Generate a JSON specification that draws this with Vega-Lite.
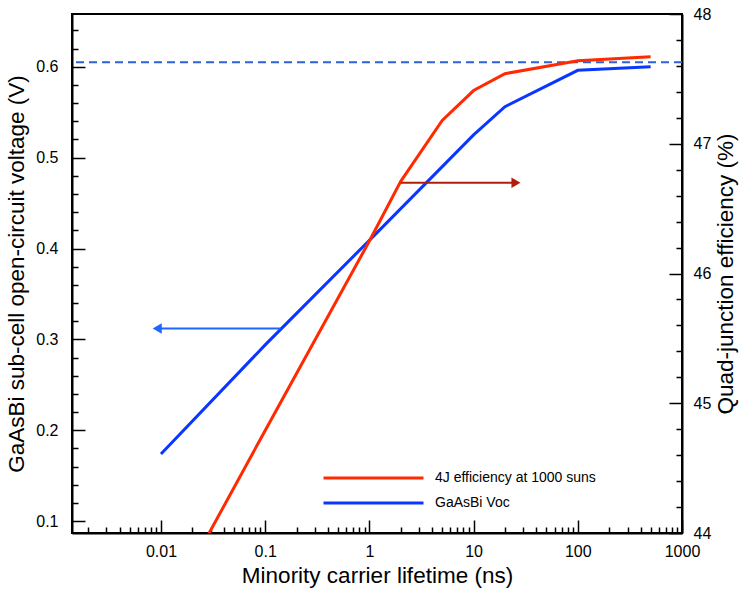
{
  "$schema": "https://vega.github.io/schema/vega-lite/v6.json",
  "width": 610,
  "height": 519,
  "autosize": {"type": "none"},
  "padding": {"left": 72, "top": 14, "right": 61, "bottom": 60},
  "background": "white",
  "config": {
    "font": "Liberation Sans",
    "view": {"stroke": "black", "strokeWidth": 2},
    "axis": {
      "grid": false,
      "domainColor": "black",
      "domainWidth": 2,
      "tickColor": "black",
      "tickWidth": 1.5,
      "tickSize": -13,
      "labelColor": "black",
      "labelFontSize": 16,
      "titleColor": "black",
      "titleFontSize": 22.5,
      "titleFontWeight": "normal",
      "labelFlush": false,
      "labelOverlap": false
    }
  },
  "datasets": {
    "curves": [
      {"series": "GaAsBi Voc", "lifetime": 0.01, "value": 0.174},
      {"series": "GaAsBi Voc", "lifetime": 0.1, "value": 0.294},
      {"series": "GaAsBi Voc", "lifetime": 1, "value": 0.409},
      {"series": "GaAsBi Voc", "lifetime": 10, "value": 0.525},
      {"series": "GaAsBi Voc", "lifetime": 20, "value": 0.556},
      {"series": "GaAsBi Voc", "lifetime": 100, "value": 0.596},
      {"series": "GaAsBi Voc", "lifetime": 500, "value": 0.6},
      {"series": "4J efficiency at 1000 suns", "lifetime": 0.01, "value": 43.32},
      {"series": "4J efficiency at 1000 suns", "lifetime": 0.1, "value": 44.79},
      {"series": "4J efficiency at 1000 suns", "lifetime": 1, "value": 46.25},
      {"series": "4J efficiency at 1000 suns", "lifetime": 2, "value": 46.71},
      {"series": "4J efficiency at 1000 suns", "lifetime": 5, "value": 47.18},
      {"series": "4J efficiency at 1000 suns", "lifetime": 10, "value": 47.41},
      {"series": "4J efficiency at 1000 suns", "lifetime": 20, "value": 47.54},
      {"series": "4J efficiency at 1000 suns", "lifetime": 100, "value": 47.64},
      {"series": "4J efficiency at 1000 suns", "lifetime": 500, "value": 47.67}
    ],
    "arrows": [
      {"arrow": "voc", "from": 0.141, "to": 0.0092, "level": 0.312},
      {"arrow": "eff", "from": 2, "to": 25.5, "level": 46.7}
    ],
    "limit": [{"level": 0.605}]
  },
  "layer": [
    {
      "data": {"name": "curves"},
      "transform": [{"filter": "datum.series == 'GaAsBi Voc'"}],
      "mark": {"type": "line", "strokeWidth": 3},
      "encoding": {
        "x": {
          "field": "lifetime",
          "type": "quantitative",
          "scale": {"type": "log", "domain": [0.0014, 1000], "nice": false},
          "axis": {
            "title": "Minority carrier lifetime (ns)",
            "values": [0.002,0.003,0.004,0.005,0.006,0.007,0.008,0.009,0.01,0.02,0.03,0.04,0.05,0.06,0.07,0.08,0.09,0.1,0.2,0.3,0.4,0.5,0.6,0.7,0.8,0.9,1,2,3,4,5,6,7,8,9,10,20,30,40,50,60,70,80,90,100,200,300,400,500,600,700,800,900,1000],
            "labelExpr": "indexof([0.01, 0.1, 1, 10, 100, 1000], datum.value) >= 0 ? format(datum.value, '~g') : ''",
            "tickDash": {"condition": {"test": "indexof([0.01, 0.1, 1, 10, 100, 1000], datum.value) >= 0", "value": [20, 0]}, "value": [6, 30]},
            "labelPadding": 23,
            "titlePadding": 5
          }
        },
        "y": {
          "field": "value",
          "type": "quantitative",
          "scale": {"domain": [0.087, 0.658], "nice": false, "zero": false},
          "axis": {
            "title": "GaAsBi sub-cell open-circuit voltage (V)",
            "values": [0.1,0.12,0.14,0.16,0.18,0.2,0.22,0.24,0.26,0.28,0.3,0.32,0.34,0.36,0.38,0.4,0.42,0.44,0.46,0.48,0.5,0.52,0.54,0.56,0.58,0.6,0.62,0.64],
            "labelExpr": "indexof([0.1, 0.2, 0.3, 0.4, 0.5, 0.6], datum.value) >= 0 ? format(datum.value, '.1f') : ''",
            "tickDash": {"condition": {"test": "indexof([0.1, 0.2, 0.3, 0.4, 0.5, 0.6], datum.value) >= 0", "value": [20, 0]}, "value": [6, 30]},
            "labelPadding": 27,
            "titlePadding": 7
          }
        },
        "color": {
          "field": "series",
          "type": "nominal",
          "scale": {"domain": ["4J efficiency at 1000 suns", "GaAsBi Voc"], "range": ["#ff2a00", "#0a36ff"]},
          "legend": {
            "title": null,
            "orient": "none",
            "legendX": 250,
            "legendY": 456,
            "symbolType": "stroke",
            "symbolSize": 10000,
            "symbolStrokeWidth": 3,
            "clipHeight": 16,
            "labelFontSize": 14,
            "labelColor": "black",
            "labelLimit": 400,
            "labelOffset": 10,
            "rowPadding": 9
          }
        }
      }
    },
    {
      "data": {"name": "limit"},
      "mark": {"type": "rule", "color": "#2e62d8", "strokeWidth": 2, "strokeDash": [8, 5]},
      "encoding": {
        "y": {"field": "level", "type": "quantitative", "scale": {"domain": [0.087, 0.658], "nice": false, "zero": false}, "axis": null}
      }
    },
    {
      "data": {"name": "arrows"},
      "transform": [{"filter": "datum.arrow == 'voc'"}],
      "mark": {"type": "rule", "color": "#1f66ff", "strokeWidth": 2},
      "encoding": {
        "x": {"field": "from", "type": "quantitative"},
        "x2": {"field": "to"},
        "y": {"field": "level", "type": "quantitative", "scale": {"domain": [0.087, 0.658], "nice": false, "zero": false}, "axis": null}
      }
    },
    {
      "data": {"name": "arrows"},
      "transform": [{"filter": "datum.arrow == 'voc'"}],
      "mark": {"type": "point", "shape": "triangle-left", "filled": true, "color": "#1f66ff", "size": 110, "opacity": 1},
      "encoding": {
        "x": {"field": "to", "type": "quantitative"},
        "y": {"field": "level", "type": "quantitative", "scale": {"domain": [0.087, 0.658], "nice": false, "zero": false}, "axis": null}
      }
    },
    {
      "data": {"name": "curves"},
      "transform": [{"filter": "datum.series == '4J efficiency at 1000 suns'"}],
      "mark": {"type": "line", "strokeWidth": 3, "clip": true},
      "encoding": {
        "x": {"field": "lifetime", "type": "quantitative"},
        "y": {
          "field": "value",
          "type": "quantitative",
          "scale": {"domain": [44, 48], "nice": false, "zero": false},
          "axis": {
            "orient": "right",
            "title": "Quad-junction efficiency (%)",
            "titleAngle": 270,
            "titleBaseline": "top",
            "values": [44,44.2,44.4,44.6,44.8,45,45.2,45.4,45.6,45.8,46,46.2,46.4,46.6,46.8,47,47.2,47.4,47.6,47.8,48],
            "labelExpr": "indexof([44, 45, 46, 47, 48], datum.value) >= 0 ? format(datum.value, 'd') : ''",
            "tickDash": {"condition": {"test": "indexof([44, 45, 46, 47, 48], datum.value) >= 0", "value": [20, 0]}, "value": [6, 30]},
            "labelPadding": 24,
            "titlePadding": 4
          }
        },
        "color": {"field": "series", "type": "nominal"}
      }
    },
    {
      "data": {"name": "arrows"},
      "transform": [{"filter": "datum.arrow == 'eff'"}],
      "mark": {"type": "rule", "color": "#b01e0a", "strokeWidth": 2},
      "encoding": {
        "x": {"field": "from", "type": "quantitative"},
        "x2": {"field": "to"},
        "y": {"field": "level", "type": "quantitative", "scale": {"domain": [44, 48], "nice": false, "zero": false}, "axis": null}
      }
    },
    {
      "data": {"name": "arrows"},
      "transform": [{"filter": "datum.arrow == 'eff'"}],
      "mark": {"type": "point", "shape": "triangle-right", "filled": true, "color": "#b01e0a", "size": 110, "opacity": 1},
      "encoding": {
        "x": {"field": "to", "type": "quantitative"},
        "y": {"field": "level", "type": "quantitative", "scale": {"domain": [44, 48], "nice": false, "zero": false}, "axis": null}
      }
    }
  ],
  "resolve": {"scale": {"y": "independent"}}
}
